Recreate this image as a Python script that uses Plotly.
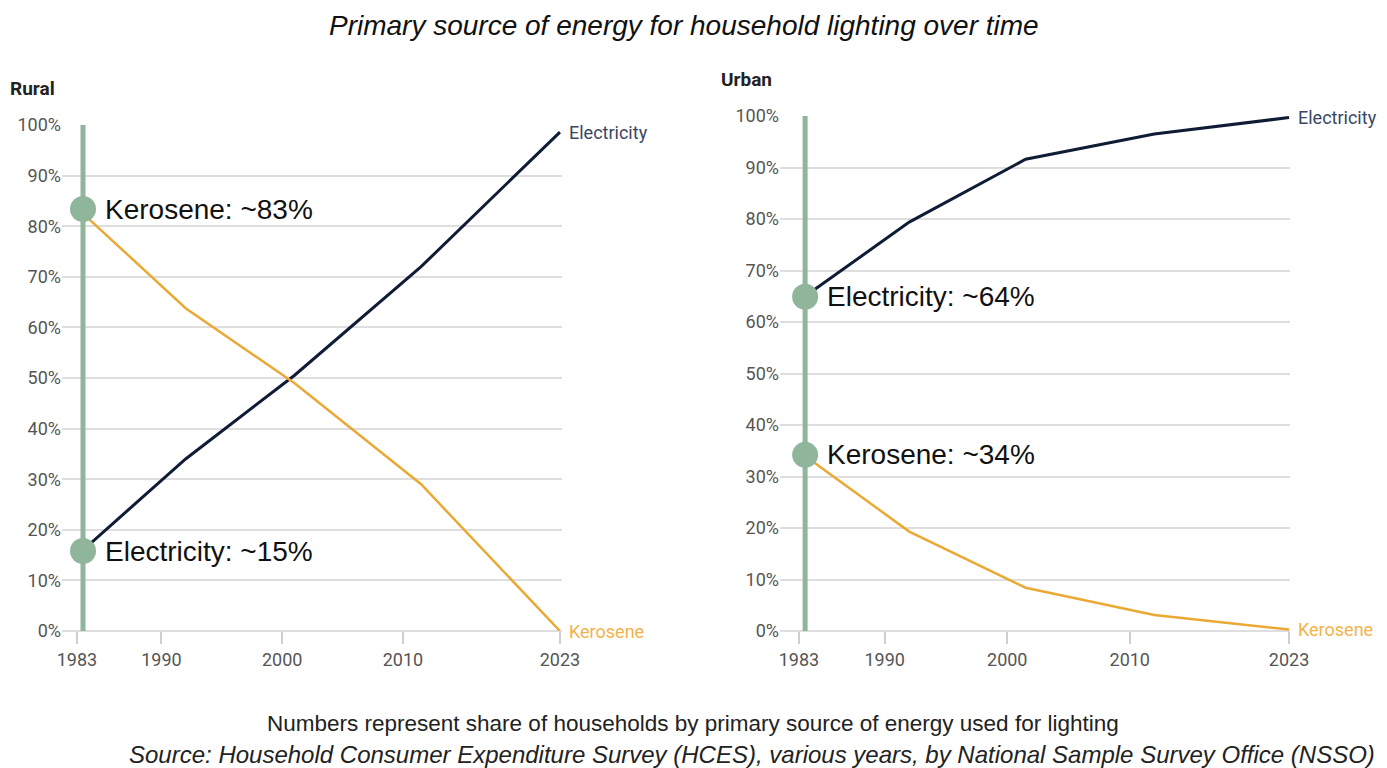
import plotly.graph_objects as go

# survey points (years, first point = 1983 survey)
years = [1983.5, 1992, 2001, 2011.5, 2023]

rural_electricity = [16, 34, 50.5, 72, 98.6]
rural_kerosene = [82.5, 63.8, 49, 29, 0]

urban_years = [1983.5, 1992, 2001.5, 2012, 2023]
urban_electricity = [65, 79.4, 91.6, 96.5, 99.7]
urban_kerosene = [34, 19.3, 8.4, 3.1, 0.3]

# highlighted 1983 values
marker_year = 1983.5
rural_marks = [("Kerosene: ~83%", 83.4), ("Electricity: ~15%", 15.8)]
urban_marks = [("Electricity: ~64%", 64.9), ("Kerosene: ~34%", 34.2)]

x_ticks = [1983, 1990, 2000, 2010, 2023]
y_ticks = [0, 10, 20, 30, 40, 50, 60, 70, 80, 90, 100]
y_labels = [f"{v}%" for v in y_ticks]

ELEC = "#101c35"
KERO = "#eaa935"
GREEN = "#8fb59b"
GRID = "#dedede"

# the page puts the plot 8px in from the top-left corner
W, H, OFF = 1379, 760, 8


def px(x):
    return (x - OFF) / W


def py(y):
    return 1 - (y - OFF) / H


fig = go.Figure()

panels = [
    ("x", "y", years, rural_electricity, rural_kerosene, rural_marks),
    ("x2", "y2", urban_years, urban_electricity, urban_kerosene, urban_marks),
]

for xa, ya, xs, elec, kero, marks in panels:
    # green reference line for 1983
    fig.add_trace(go.Scatter(x=[marker_year, marker_year], y=[0, 100], mode="lines",
                             line=dict(color=GREEN, width=5), xaxis=xa, yaxis=ya,
                             hoverinfo="skip", showlegend=False))
    fig.add_trace(go.Scatter(x=xs, y=elec, mode="lines", line=dict(color=ELEC, width=3),
                             xaxis=xa, yaxis=ya, name="Electricity", showlegend=False))
    fig.add_trace(go.Scatter(x=xs, y=kero, mode="lines", line=dict(color=KERO, width=2.5),
                             xaxis=xa, yaxis=ya, name="Kerosene", showlegend=False))
    fig.add_trace(go.Scatter(x=[marker_year] * len(marks), y=[m[1] for m in marks],
                             mode="markers", marker=dict(color=GREEN, size=26),
                             xaxis=xa, yaxis=ya, hoverinfo="skip", showlegend=False))
    for txt, val in marks:
        fig.add_annotation(x=marker_year, y=val, xref=xa, yref=ya, text=txt,
                           showarrow=False, xanchor="left", yanchor="middle", xshift=20,
                           font=dict(family="Liberation Sans", size=28, color="#111111"))
    # end-of-line labels
    fig.add_annotation(x=xs[-1], y=elec[-1], xref=xa, yref=ya, text="Electricity",
                       showarrow=False, xanchor="left", yanchor="middle", xshift=7,
                       font=dict(family="Roboto", size=18, color="#3a4662"))
    fig.add_annotation(x=xs[-1], y=kero[-1], xref=xa, yref=ya, text="Kerosene",
                       showarrow=False, xanchor="left", yanchor="middle", xshift=7,
                       font=dict(family="Roboto", size=18, color="#f2b34a"))

axis_font = dict(family="Roboto", size=18, color="#555555")

xcommon = dict(tickvals=x_ticks, ticks="outside", ticklen=12, tickcolor="#cfcfcf",
               tickwidth=1.5, showgrid=False, zeroline=False, showline=False,
               tickfont=axis_font, automargin=False)
ycommon = dict(range=[0, 100], tickvals=y_ticks, ticktext=y_labels, showgrid=True,
               gridcolor=GRID, gridwidth=2, zeroline=True, zerolinecolor=GRID,
               zerolinewidth=2, showline=False, ticks="", tickfont=axis_font,
               automargin=False)

fig.update_layout(
    width=W, height=H,
    margin=dict(l=0, r=0, t=0, b=0),
    paper_bgcolor="white", plot_bgcolor="white",
    xaxis=dict(domain=[px(62), px(562)], range=[1981.76, 2023.17], anchor="y", **xcommon),
    yaxis=dict(domain=[py(631), py(125)], anchor="x", **ycommon),
    xaxis2=dict(domain=[px(780), px(1290)], range=[1981.45, 2023.08], anchor="y2", **xcommon),
    yaxis2=dict(domain=[py(631), py(116)], anchor="x2", **ycommon),
    showlegend=False,
)

# panel titles
fig.add_annotation(x=0, y=py(88), xref="paper", yref="paper", text="<b>Rural</b>",
                   showarrow=False, xanchor="left", yanchor="middle",
                   font=dict(family="Roboto", size=19, color="#222222"))
fig.add_annotation(x=px(719), y=py(80), xref="paper", yref="paper", text="<b>Urban</b>",
                   showarrow=False, xanchor="left", yanchor="middle",
                   font=dict(family="Roboto", size=19, color="#222222"))

# main title and footers
fig.add_annotation(x=px(684), y=1, xref="paper", yref="paper",
                   text="<i>Primary source of energy for household lighting over time</i>",
                   showarrow=False, xanchor="center", yanchor="top",
                   font=dict(family="Liberation Sans", size=28, color="#111111"))
fig.add_annotation(x=px(693), y=py(723), xref="paper", yref="paper",
                   text="Numbers represent share of households by primary source of energy used for lighting",
                   showarrow=False, xanchor="center", yanchor="middle",
                   font=dict(family="Liberation Sans", size=22.5, color="#222222"))
fig.add_annotation(x=px(752), y=py(754), xref="paper", yref="paper",
                   text="<i>Source: Household Consumer Expenditure Survey (HCES), various years, by National Sample Survey Office (NSSO)</i>",
                   showarrow=False, xanchor="center", yanchor="middle",
                   font=dict(family="Liberation Sans", size=24, color="#222222"))

fig.write_html("out.html")
